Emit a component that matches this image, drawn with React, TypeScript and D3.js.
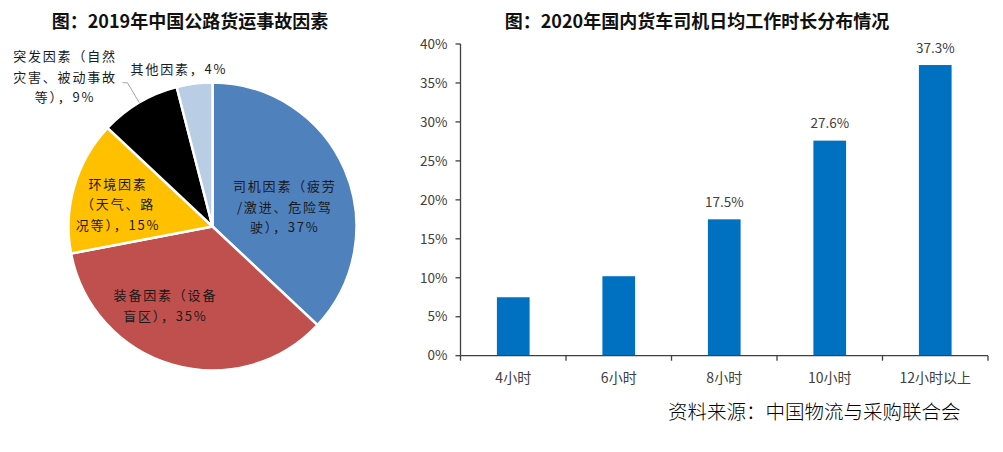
import * as d3 from "d3";
import React from "react";

// 饼图：2019年中国公路货运事故因素
const pieNames = ["司机", "装备", "环境", "突发", "其他"];
const pieValues = [37, 35, 15, 9, 4];
const pieColors = ["#4F81BD", "#C0504D", "#FFC000", "#000000", "#B9CDE5"];
const pieLabels = [
    ["司机因素（疲劳", "/激进、危险驾", "驶），37%"],
    ["装备因素（设备", "盲区），35%"],
    ["环境因素", "（天气、路", "况等），15%"],
    ["突发因素（自然", "灾害、被动事故", "等），9%"],
    ["其他因素，4%"],
];

// 柱状图：2020年国内货车司机日均工作时长分布情况
const hours = ["4小时", "6小时", "8小时", "10小时", "12小时以上"];
const shares = [7.5, 10.2, 17.5, 27.6, 37.3];
const labeledHours = ["8小时", "10小时", "12小时以上"];
const yTicks = [0, 5, 10, 15, 20, 25, 30, 35, 40];

const W = 1003;
const H = 452;
const cjk = "'Noto Sans CJK SC', 'Noto Sans', sans-serif";

function Pie() {
    const cx = 212.5;
    const cy = 226.5;
    const r = 144;
    const pie = d3.pie<number>().sort(null).value((d) => d);
    const arcs = pie(pieValues);
    const arc = d3.arc<d3.PieArcDatum<number>>().innerRadius(0).outerRadius(r);
    const inner = d3
        .arc<d3.PieArcDatum<number>>()
        .innerRadius(r * 0.6)
        .outerRadius(r * 0.6);
    const outer = d3
        .arc<d3.PieArcDatum<number>>()
        .innerRadius(r * 1.16)
        .outerRadius(r * 1.16);
    const edge = d3
        .arc<d3.PieArcDatum<number>>()
        .innerRadius(r)
        .outerRadius(r);

    // label nudges (inside labels from centroid, outside ones fixed relative)
    const nudge = [
        [-7, 15],
        [-23, -3.5],
        [-11.5, 2.5],
    ];

    const labelPos = (i: number) => {
        const d = arcs[i];
        if (i < 3) {
            const c = inner.centroid(d);
            return [c[0] + nudge[i][0], c[1] + nudge[i][1]];
        }
        if (i === 3) return [-147.5, -149.5];
        return [-33.5, -157.5];
    };

    const lead = arcs[3];
    const p0 = edge.centroid(lead);
    const p1 = outer.centroid(lead);

    return (
        <g transform={`translate(${cx},${cy})`}>
            {arcs.map((d, i) => (
                <path
                    key={pieNames[i]}
                    d={arc(d) || ""}
                    fill={pieColors[i]}
                    stroke="#fff"
                    strokeWidth={2.5}
                />
            ))}
            <polyline
                points={`${p0[0]},${p0[1]} ${p1[0]},${p1[1]} ${p1[0] - 5},${p1[1]}`}
                fill="none"
                stroke="#a6a6a6"
                strokeWidth={1}
            />
            {pieLabels.map((lines, i) => {
                const [x, y] = labelPos(i);
                const top = y - ((lines.length - 1) * 20.5) / 2;
                return (
                    <text
                        key={i}
                        textAnchor="middle"
                        fontFamily={cjk}
                        fontSize={13}
                        fill="#1a1a1a"
                    >
                        {lines.map((t, j) => (
                            <tspan
                                key={j}
                                x={x}
                                y={top + j * 20.5}
                                dy="0.35em"
                                letterSpacing={1.8}
                            >
                                {t}
                            </tspan>
                        ))}
                    </text>
                );
            })}
        </g>
    );
}

function Bars() {
    const left = 460.5;
    const right = 988;
    const top = 44;
    const bottom = 355.7;
    const x = d3
        .scaleBand<string>()
        .domain(hours)
        .range([left, right])
        .paddingInner(0.69)
        .paddingOuter(0.345);
    const y = d3.scaleLinear().domain([0, 40]).range([bottom, top]);
    const step = x.step();
    const bounds = d3.range(hours.length + 1).map((i) => left + i * step);
    const axisColor = "#404040";

    return (
        <g>
            {hours.map((h, i) => (
                <rect
                    key={h}
                    x={x(h)}
                    y={y(shares[i])}
                    width={x.bandwidth()}
                    height={bottom - y(shares[i])}
                    fill="#0070C0"
                />
            ))}
            <line x1={left} x2={left} y1={top} y2={bottom} stroke={axisColor} strokeWidth={1.3} />
            <line x1={left} x2={right} y1={bottom} y2={bottom} stroke={axisColor} strokeWidth={1.3} />
            {yTicks.map((t) => (
                <g key={t}>
                    <line x1={left - 5} x2={left} y1={y(t)} y2={y(t)} stroke={axisColor} strokeWidth={1.3} />
                    <text
                        x={left - 13}
                        y={y(t)}
                        dy="0.35em"
                        textAnchor="end"
                        fontFamily={cjk}
                        fontSize={13.5}
                        fill={axisColor}
                    >
                        {t}%
                    </text>
                </g>
            ))}
            {bounds.map((b, i) => (
                <line key={i} x1={b} x2={b} y1={bottom} y2={bottom + 5} stroke={axisColor} strokeWidth={1.3} />
            ))}
            {hours.map((h) => (
                <text
                    key={h}
                    x={(x(h) || 0) + x.bandwidth() / 2}
                    y={378}
                    dy="0.35em"
                    textAnchor="middle"
                    fontFamily={cjk}
                    fontSize={14}
                    fill={axisColor}
                >
                    {h}
                </text>
            ))}
            {hours.map((h, i) =>
                labeledHours.includes(h) ? (
                    <text
                        key={h}
                        x={(x(h) || 0) + x.bandwidth() / 2}
                        y={y(shares[i]) - 17}
                        dy="0.35em"
                        textAnchor="middle"
                        fontFamily={cjk}
                        fontSize={13.5}
                        fill={axisColor}
                    >
                        {shares[i].toFixed(1)}%
                    </text>
                ) : null
            )}
        </g>
    );
}

export default function App() {
    return (
        <svg
            width={W}
            height={H}
            style={{ position: "absolute", left: 0, top: 0, background: "#fff" }}
        >
            <rect width={W} height={H} fill="#fff" />
            <text
                x={190}
                y={22}
                dy="0.35em"
                textAnchor="middle"
                fontFamily={cjk}
                fontWeight="bold"
                fontSize={18}
                fill="#111"
            >
                图：2019年中国公路货运事故因素
            </text>
            <text
                x={697}
                y={22}
                dy="0.35em"
                textAnchor="middle"
                fontFamily={cjk}
                fontWeight="bold"
                fontSize={18}
                fill="#111"
            >
                图：2020年国内货车司机日均工作时长分布情况
            </text>
            <Pie />
            <Bars />
            <text
                x={668}
                y={412}
                dy="0.35em"
                fontFamily={cjk}
                fontWeight={300}
                fontSize={19.5}
                fill="#000"
            >
                资料来源：中国物流与采购联合会
            </text>
        </svg>
    );
}
